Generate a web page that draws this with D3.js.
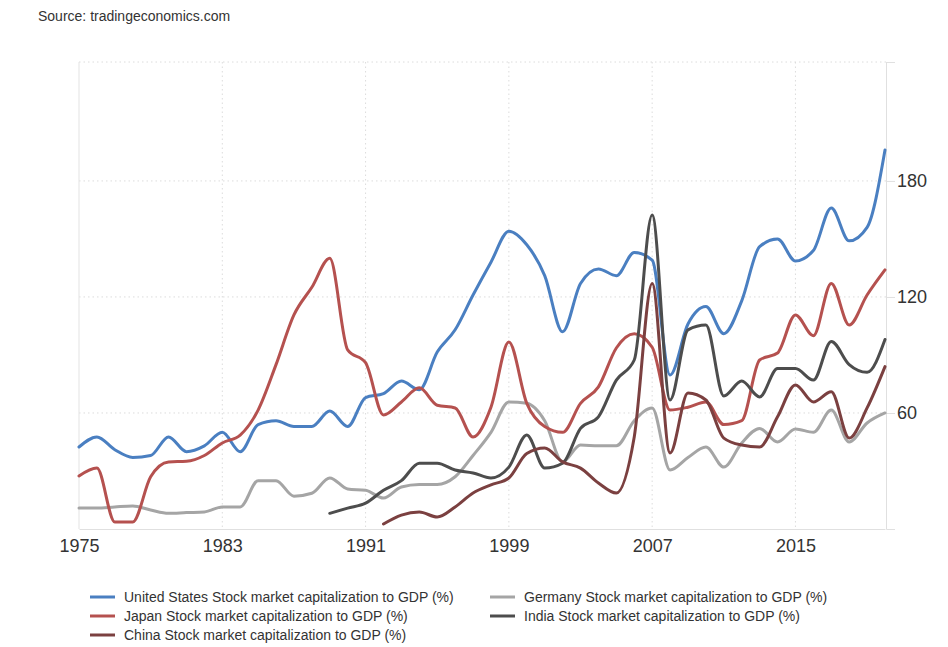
<!DOCTYPE html>
<html>
<head>
<meta charset="utf-8">
<script src="https://cdn.jsdelivr.net/npm/d3@7"></script>
<style>
  body { margin: 0; background: #fff; }
  svg { font-family: Arial, "Liberation Sans", sans-serif; }
</style>
</head>
<body>
<svg id="chart" width="948" height="647"></svg>
<script>
const years = d3.range(1975, 2021);

const usValues = [42.4, 47.6, 41, 37, 38, 47.6, 40, 43, 50, 40, 54, 56, 53, 53, 61, 53, 68, 70, 76.5, 72,
  91.5, 103, 121, 138, 154, 147, 131, 102, 127, 134.5, 131, 143, 139, 79.6, 106, 115, 101, 118, 146, 150,
  138.6, 144, 166, 149, 156, 196];
const japanValues = [27.4, 31.5, 3.6, 3.6, 27, 34.7, 35, 38, 44.5, 48.6, 61.5, 85, 110.7, 125, 140, 92.6,
  86, 59, 65.7, 73, 64, 62.6, 47.6, 63, 96.7, 65, 53, 50, 65, 73.5, 93.6, 101, 94, 61.5, 63, 65.7, 54, 56,
  87.4, 91, 110.7, 100, 127, 105.5, 121, 134];
const germanyValues = [10.8, 10.8, 11.4, 11.9, 9.8, 8.1, 8.5, 8.8, 11.4, 11.4, 25, 25, 17, 18.5, 26.4, 20.7,
  20, 16, 21.7, 23, 23, 27, 38, 50, 65.7, 65, 56, 34.7, 43.4, 43, 43, 56, 62.6, 30.5, 37, 42.4, 32, 44.5,
  52, 45, 51.7, 50, 61.5, 45, 54.8, 60];
// India from 1989, China from 1992
const indiaValues = [null, null, null, null, null, null, null, null, null, null, null, null, null, null,
  8.1, 10.8, 13.4, 20, 25, 34, 34, 30.5, 29, 26.4, 32, 48.6, 31.5, 34, 52, 58, 77, 87.4, 162.4, 66.7, 103,
  105.5, 68.8, 76.5, 68.3, 83, 83, 77, 97, 85, 81, 98];
const chinaValues = [null, null, null, null, null, null, null, null, null, null, null, null, null, null,
  null, null, null, 2.6, 7.2, 8.8, 6.2, 11.4, 18.6, 22.8, 26.4, 39, 41.9, 34.7, 31.5, 23.8, 18.6, 47.6,
  127, 39.3, 70.3, 66.7, 47, 43.4, 42.4, 58, 74.5, 65.7, 71, 47, 62.6, 84];

const seriesNames = [
  "United States Stock market capitalization to GDP (%)",
  "Germany Stock market capitalization to GDP (%)",
  "Japan Stock market capitalization to GDP (%)",
  "India Stock market capitalization to GDP (%)",
  "China Stock market capitalization to GDP (%)"
];
const seriesValues = [usValues, germanyValues, japanValues, indiaValues, chinaValues];
const seriesColors = ["#4a7fc1", "#a5a5a5", "#b5514f", "#4d4d4d", "#7b4040"];

const xTicks = [1975, 1983, 1991, 1999, 2007, 2015];
const yTicks = [60, 120, 180];

const svg = d3.select("#chart");
const plotLeft = 79, plotRight = 886, plotTop = 62, plotBottom = 529;

const x = d3.scaleLinear().domain([1975, 2020]).range([plotLeft, plotRight - 1]);
const y = d3.scaleLinear().domain([0, 241.5]).range([plotBottom, plotTop]);

// grid lines
const grid = svg.append("g");
grid.selectAll("line.v")
  .data(xTicks.slice(1))
  .enter().append("line")
  .attr("x1", d => x(d)).attr("x2", d => x(d))
  .attr("y1", plotTop).attr("y2", plotBottom)
  .attr("stroke", "#dcdcdc").attr("stroke-dasharray", "1.5,3");
grid.selectAll("line.h")
  .data(yTicks.concat([241.5]))
  .enter().append("line")
  .attr("x1", plotLeft).attr("x2", plotRight)
  .attr("y1", d => y(d)).attr("y2", d => y(d))
  .attr("stroke", "#dcdcdc").attr("stroke-dasharray", "1.5,3");

// left frame line
svg.append("line").attr("x1", plotLeft).attr("x2", plotLeft).attr("y1", plotTop).attr("y2", plotBottom)
  .attr("stroke", "#e3e3e3");

// x axis
const xAxis = d3.axisBottom(x).tickValues(xTicks).tickFormat(d3.format("d")).tickSize(0).tickPadding(10);
svg.append("g")
  .attr("transform", `translate(0,${plotBottom})`)
  .call(xAxis)
  .call(g => g.select(".domain").attr("stroke", "#e0e0e0"))
  .call(g => g.selectAll("text").attr("font-size", "18px").attr("fill", "#333")
    .attr("font-family", "Arial, 'Liberation Sans', sans-serif"));

// y axis on the right
const yAxis = d3.axisRight(y).tickValues(yTicks.concat([241.5])).tickSize(9).tickPadding(2)
  .tickFormat(d => d > 200 ? "" : d);
svg.append("g")
  .attr("transform", `translate(${plotRight},0)`)
  .call(yAxis)
  .call(g => g.select(".domain").attr("stroke", "#e0e0e0"))
  .call(g => g.selectAll(".tick line").attr("stroke", "#e0e0e0"))
  .call(g => g.selectAll("text").attr("font-size", "18px").attr("fill", "#333")
    .attr("font-family", "Arial, 'Liberation Sans', sans-serif"));

// lines
const line = d3.line()
  .defined(d => d.v != null)
  .x(d => x(d.year))
  .y(d => y(d.v))
  .curve(d3.curveMonotoneX);

seriesValues.forEach((vals, i) => {
  const pts = years.map((yr, j) => ({ year: yr, v: vals[j] }));
  svg.append("path")
    .datum(pts)
    .attr("fill", "none")
    .attr("stroke", seriesColors[i])
    .attr("stroke-width", 3)
    .attr("stroke-linejoin", "round")
    .attr("stroke-linecap", "round")
    .attr("d", line);
});

// source
svg.append("text")
  .attr("x", 38).attr("y", 21)
  .attr("font-size", "14px").attr("fill", "#333")
  .text("Source: tradingeconomics.com");

// legend
const legend = svg.append("g");
seriesNames.forEach((name, i) => {
  const col = i % 2, row = Math.floor(i / 2);
  const lx = col === 0 ? 90 : 490;
  const ly = 597 + row * 19;
  legend.append("line")
    .attr("x1", lx).attr("x2", lx + 25)
    .attr("y1", ly).attr("y2", ly)
    .attr("stroke", seriesColors[i]).attr("stroke-width", 3);
  legend.append("text")
    .attr("x", lx + 34).attr("y", ly + 5)
    .attr("font-size", "14px").attr("fill", "#333")
    .text(name);
});
</script>
</body>
</html>
